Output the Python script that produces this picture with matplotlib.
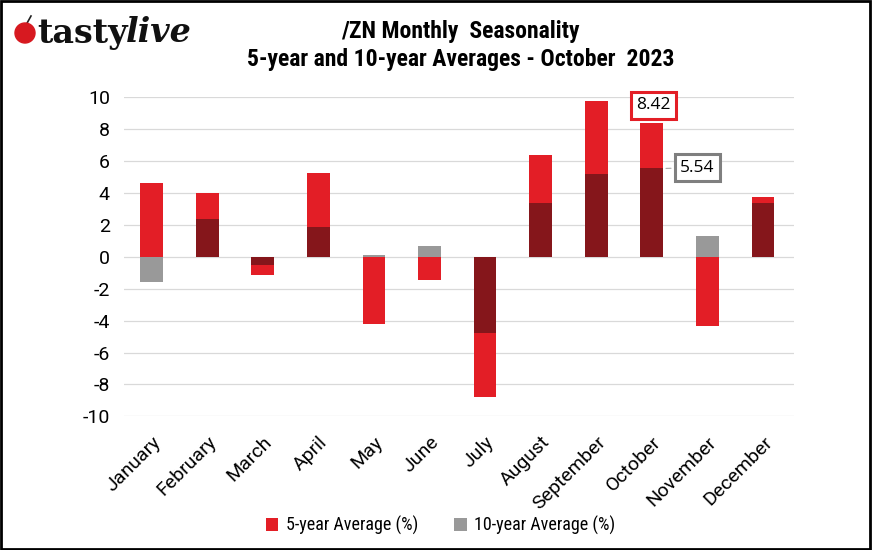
import numpy as np
import matplotlib
matplotlib.use('Agg')
import matplotlib.pyplot as plt
from matplotlib.patches import Rectangle, Circle

# 月份与数据
months = ['January', 'February', 'March', 'April', 'May', 'June',
          'July', 'August', 'September', 'October', 'November', 'December']
avg5 = [4.64, 3.99, -1.11, 5.27, -4.24, -1.44, -8.80, 6.37, 9.78, 8.42, -4.31, 3.74]
avg10 = [-1.59, 2.40, -0.54, 1.88, 0.13, 0.69, -4.79, 3.36, 5.20, 5.54, 1.32, 3.40]
label5 = '5-year Average (%)'
label10 = '10-year Average (%)'

red = '#e31e26'
dark = '#85161b'
gray = '#999999'
narrow = ['Roboto Condensed', 'Liberation Sans Narrow', 'Roboto', 'DejaVu Sans']

plt.rcParams['font.family'] = ['Roboto', 'DejaVu Sans']
plt.rcParams['axes.unicode_minus'] = False

fig = plt.figure(figsize=(8.72, 5.5), dpi=100)
ax = fig.add_axes([0.142, 0.243, 0.768, 0.58])

x = np.arange(len(months))
a5 = np.array(avg5)
a10 = np.array(avg10)
# 重叠部分(同号)用深红色
same = np.sign(a5) == np.sign(a10)
overlap = np.where(same, np.sign(a5) * np.minimum(np.abs(a5), np.abs(a10)), 0)

w = 0.41
ax.bar(x, a5, w, color=red, label=label5, zorder=3)
ax.bar(x, np.where(same, 0, a10), w, color=gray, label=label10, zorder=3)
ax.bar(x, overlap, w, color=dark, zorder=4)

ax.set_xlim(-0.5, 11.55)
ax.set_ylim(-10, 10)
ax.set_yticks(range(-10, 11, 2))
ax.grid(axis='y', color='#d9d9d9', lw=0.9, zorder=0)
for s in ax.spines.values():
    s.set_visible(False)
ax.tick_params(length=0, labelsize=14, pad=10)
ax.set_xticks(x)
ax.set_xticklabels(months, rotation=45, ha='right', rotation_mode='anchor', fontsize=14)
ax.tick_params(axis='x', pad=12)

# 标注
oc = months.index('October')
ax.annotate(f'{avg5[oc]:.2f}', (oc, avg5[oc]), xytext=(oc + 0.03, 9.5),
            ha='center', va='center', fontsize=12.5, family=['Open Sans', 'DejaVu Sans'],
            bbox=dict(boxstyle='square,pad=0.3', fc='white', ec=red, lw=2.2), zorder=6)
ax.annotate(f'{avg10[oc]:.2f}', (oc + w / 2, avg10[oc]), xytext=(oc + 0.82, 5.6),
            ha='center', va='center', fontsize=12.5, family=['Open Sans', 'DejaVu Sans'],
            bbox=dict(boxstyle='square,pad=0.3', fc='white', ec='#7f7f7f', lw=2.2),
            arrowprops=dict(arrowstyle='-', color='#a6a6a6', lw=0.8), zorder=6)

# 标题
fig.text(0.528, 0.942, '/ZN Monthly  Seasonality', ha='center', va='center',
         fontsize=17, fontweight='bold', family=narrow)
fig.text(0.528, 0.891, '5-year and 10-year Averages - October  2023', ha='center', va='center',
         fontsize=17, fontweight='bold', family=narrow)

# logo
ax_logo = fig.add_axes([0, 0, 1, 1], facecolor='none')
ax_logo.set_axis_off()
ax_logo.set_xlim(0, 872)
ax_logo.set_ylim(550, 0)
ax_logo.add_patch(Circle((25, 33), 10, color='#d71920', zorder=5))
ax_logo.plot([26, 31], [25, 16], color='#222222', lw=1.2)
t1 = fig.text(0.043, 0.94, 'tasty', ha='left', va='center', fontsize=24, fontweight='bold',
              family=['DejaVu Serif'], color='#111111')
fig.canvas.draw()
bb = t1.get_window_extent(renderer=fig.canvas.get_renderer())
fig.text(bb.x1 / fig.bbox.width - 0.003, 0.94, 'live', ha='left', va='center', fontsize=24,
         fontweight='bold', style='italic', family=['DejaVu Serif'], color='#111111')

# 图例
leg = fig.legend(loc='center', bbox_to_anchor=(0.505, 0.045), ncol=2, frameon=False,
                 handlelength=0.7, handleheight=0.7, handletextpad=0.4, columnspacing=2.0,
                 prop={'family': narrow, 'size': 13})

# 外框
fig.patches.append(Rectangle((0.001, 0.002), 0.997, 0.996, transform=fig.transFigure,
                             fill=False, ec='black', lw=2))

fig.savefig('out.png', dpi=100)
